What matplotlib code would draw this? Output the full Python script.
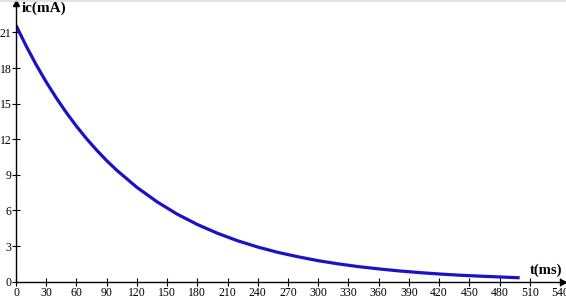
import matplotlib.pyplot as plt
import matplotlib

matplotlib.rcParams['font.family'] = ['Liberation Serif', 'DejaVu Serif']

# 读图得到的数据 (t: ms, ic: mA)
t_ms = [0, 10, 20, 30, 40, 50, 60, 70, 80, 90, 100, 120, 140, 160, 180,
        200, 220, 240, 260, 280, 300, 320, 340, 360, 380, 400, 420, 440,
        460, 480, 500]
ic_mA = [21.60, 19.87, 18.28, 16.82, 15.48, 14.24, 13.10, 12.05, 11.09,
         10.20, 9.39, 7.95, 6.73, 5.69, 4.82, 4.08, 3.45, 2.92, 2.47, 2.10,
         1.77, 1.50, 1.27, 1.08, 0.91, 0.77, 0.65, 0.55, 0.47, 0.40, 0.33]
x_ticks = list(range(0, 541, 30))
y_ticks = list(range(0, 22, 3))

fig = plt.figure(figsize=(5.66, 2.98), dpi=100)
ax = fig.add_axes([16 / 566, 16.3 / 298, 550 / 566, 281.7 / 298])

ax.plot(t_ms, ic_mA, color='#1a12c4', lw=2.3, solid_capstyle='butt',
        solid_joinstyle='round')

ax.set_xlim(0, 546)
ax.set_ylim(0, 23.73)
ax.spines['top'].set_visible(False)
ax.spines['right'].set_visible(False)
ax.spines['bottom'].set_bounds(0, 541)
ax.spines['left'].set_bounds(0, 23.4)
for s in ('left', 'bottom'):
    ax.spines[s].set_linewidth(1.0)
    ax.spines[s].set_color('black')

# 箭头
ax.plot(543, 0, '>', color='black', ms=5, clip_on=False)
ax.plot(0, 23.5, '^', color='black', ms=5, clip_on=False)

ax.set_xticks(x_ticks)
ax.set_yticks(y_ticks)
ax.tick_params(axis='x', direction='inout', length=6, width=0.8, pad=1, labelsize=8.5)
ax.tick_params(axis='y', direction='inout', length=6, width=0.8, pad=0.3, labelsize=8.5)

ax.text(6, 23.0, 'ic(mA)', fontsize=11, fontweight='bold', ha='left', va='center')
ax.text(510, 0.95, 't(ms)', fontsize=10.5, fontweight='bold', ha='left', va='center')

# 顶部灰线
fig.add_artist(plt.Line2D([0, 1], [0.998, 0.998], color='#dddddd', lw=1.2,
                          transform=fig.transFigure))

fig.savefig('out.png', dpi=100)
